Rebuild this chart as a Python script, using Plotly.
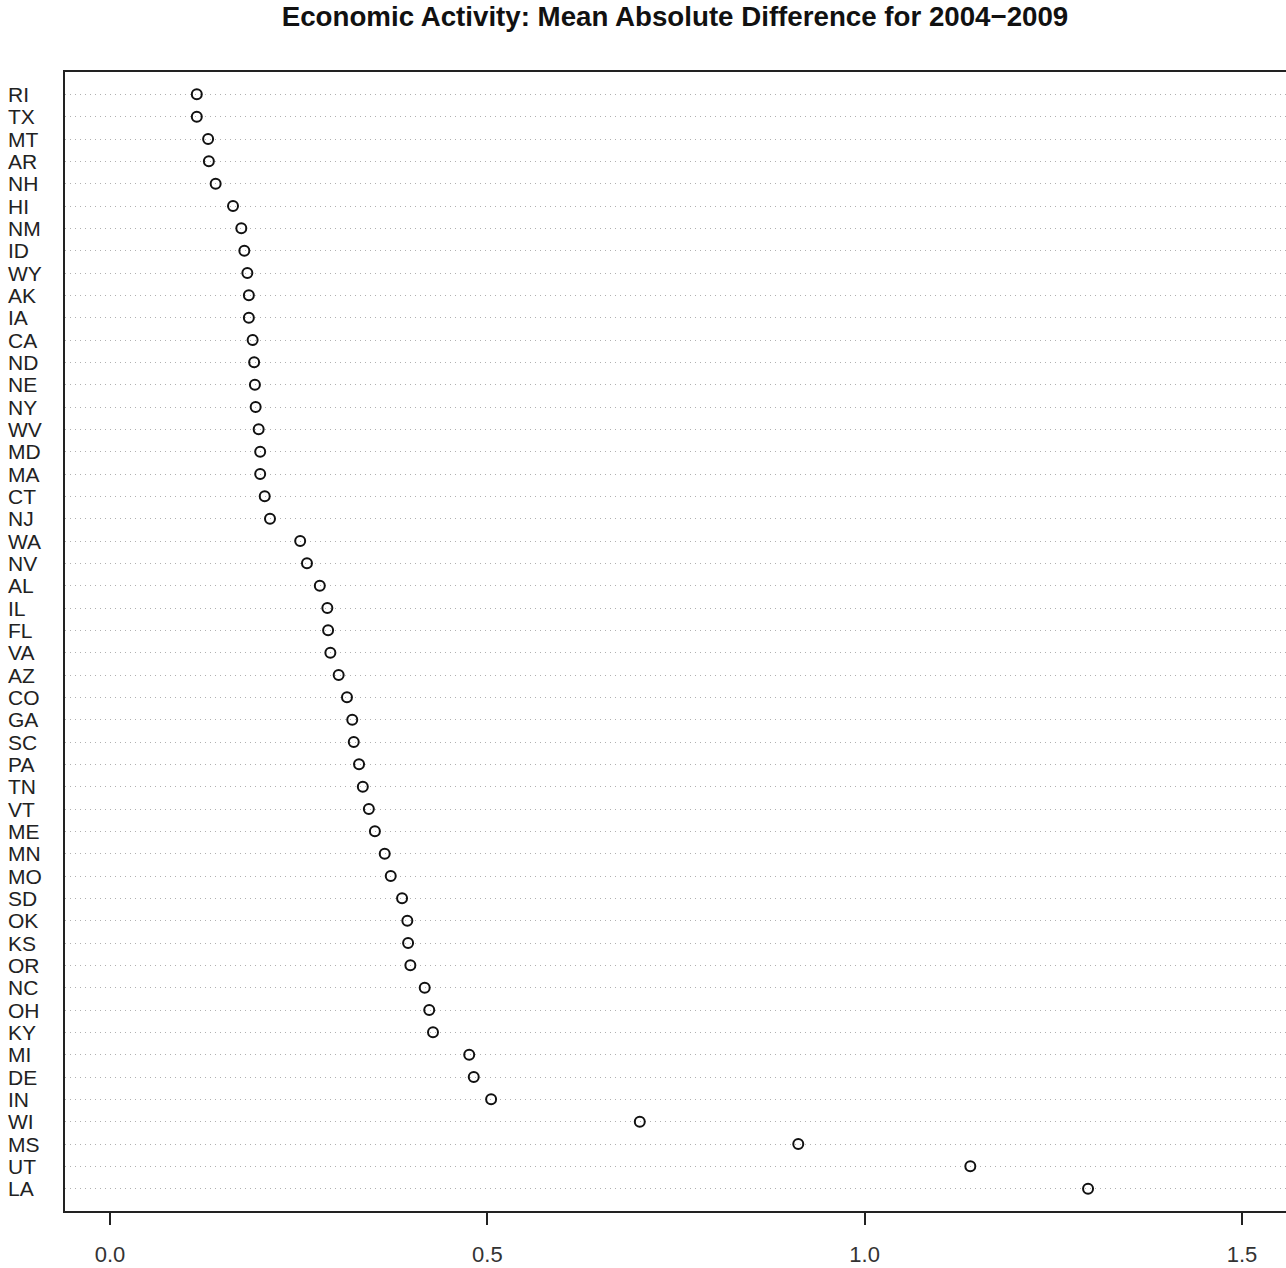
import plotly.graph_objects as go

states = ["RI", "TX", "MT", "AR", "NH", "HI", "NM", "ID", "WY", "AK",
          "IA", "CA", "ND", "NE", "NY", "WV", "MD", "MA", "CT", "NJ",
          "WA", "NV", "AL", "IL", "FL", "VA", "AZ", "CO", "GA", "SC",
          "PA", "TN", "VT", "ME", "MN", "MO", "SD", "OK", "KS", "OR",
          "NC", "OH", "KY", "MI", "DE", "IN", "WI", "MS", "UT", "LA"]
values = [0.115, 0.115, 0.130, 0.131, 0.140, 0.163, 0.174, 0.178, 0.182, 0.184,
          0.184, 0.189, 0.191, 0.192, 0.193, 0.197, 0.199, 0.199, 0.205, 0.212,
          0.252, 0.261, 0.278, 0.288, 0.289, 0.292, 0.303, 0.314, 0.321, 0.323,
          0.330, 0.335, 0.343, 0.351, 0.364, 0.372, 0.387, 0.394, 0.395, 0.398,
          0.417, 0.423, 0.428, 0.476, 0.482, 0.505, 0.702, 0.912, 1.140, 1.296]
x_ticks = [0.0, 0.5, 1.0, 1.5]
x_tick_labels = ["0.0", "0.5", "1.0", "1.5"]
title = "Economic Activity: Mean Absolute Difference for 2004\u22122009"

n = len(states)
ypos = [n - i for i in range(n)]  # first state at top

W, H = 1286, 1268
ml, mr, mt, mb = 65, 0, 72, 1268 - 1211
plot_w = W - ml - mr

fig = go.Figure()
fig.add_trace(go.Scatter(
    x=values, y=ypos, mode="markers",
    marker=dict(symbol="circle-open", size=10, color="#111111", line=dict(width=2, color="#111111")),
    showlegend=False, hoverinfo="skip"))

font = "Liberation Sans, Arial, sans-serif"
for s, y in zip(states, ypos):
    fig.add_annotation(x=(6 - ml) / plot_w, xref="paper", y=y, yref="y",
                       text=s, showarrow=False, xanchor="left", yanchor="middle",
                       font=dict(family=font, size=21, color="#222222"))

fig.update_layout(
    width=W, height=H,
    margin=dict(l=ml, r=mr, t=mt, b=mb, pad=0),
    paper_bgcolor="white", plot_bgcolor="white",
    title=dict(text="<b>" + title + "</b>", x=(675 - ml) / plot_w, xanchor="center",
               y=1 - 16 / H, yanchor="middle", xref="paper", yref="container",
               font=dict(family=font, size=27.7, color="#111111")),
    xaxis=dict(range=[(ml - 110) / 754.67, (W - mr - 110) / 754.67],
               tickvals=x_ticks, ticktext=x_tick_labels,
               ticks="outside", ticklen=12, tickwidth=1.5, tickcolor="#222222",
               ticklabelstandoff=11,
               showline=True, linecolor="#222222", linewidth=2, mirror=True,
               showgrid=False, zeroline=False,
               tickfont=dict(family=font, size=22, color="#333333")),
    yaxis=dict(range=[0, n + 1], tickvals=ypos, showticklabels=False, ticks="",
               showline=True, linecolor="#222222", linewidth=2, mirror=False,
               showgrid=True, gridcolor="#b0b0b0", gridwidth=1, griddash="1px,4px",
               zeroline=False),
)

fig.write_html("out.html")
